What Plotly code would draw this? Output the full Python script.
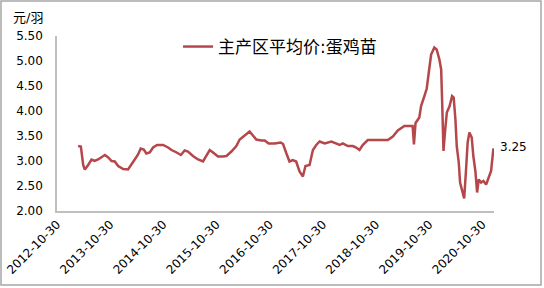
import plotly.graph_objects as go

dates = [
    "2013-03-24", "2013-04-12", "2013-04-28", "2013-05-09", "2013-06-01", "2013-06-24",
    "2013-07-16", "2013-08-08", "2013-09-24", "2013-10-17", "2013-11-09", "2013-12-01",
    "2013-12-24", "2014-01-28", "2014-03-02", "2014-03-25", "2014-04-17", "2014-05-10",
    "2014-05-28", "2014-06-18", "2014-07-06", "2014-07-29", "2014-08-21", "2014-09-18",
    "2014-10-29", "2014-12-02", "2014-12-26", "2015-01-30", "2015-02-28", "2015-03-26",
    "2015-04-18", "2015-05-22", "2015-06-26", "2015-07-30", "2015-08-22", "2015-09-14",
    "2015-10-07", "2015-11-10", "2015-12-14", "2016-01-07", "2016-02-10", "2016-03-15",
    "2016-04-07", "2016-05-11", "2016-06-14", "2016-07-07", "2016-07-30", "2016-09-03",
    "2016-09-26", "2016-10-23", "2016-12-03", "2017-01-14", "2017-01-30", "2017-02-22",
    "2017-03-15", "2017-04-07", "2017-04-30", "2017-05-23", "2017-06-15", "2017-07-03",
    "2017-07-31", "2017-08-23", "2017-09-15", "2017-10-08", "2017-11-12", "2017-12-28",
    "2018-01-31", "2018-02-23", "2018-03-16", "2018-04-20", "2018-05-24", "2018-06-16",
    "2018-07-09", "2018-07-31", "2018-09-04", "2018-10-08", "2018-11-12", "2018-12-16",
    "2019-01-20", "2019-02-23", "2019-03-29", "2019-05-13", "2019-06-16", "2019-07-09",
    "2019-07-18", "2019-07-29", "2019-08-24", "2019-09-05", "2019-09-28", "2019-10-14",
    "2019-10-28", "2019-11-13", "2019-12-05", "2019-12-21", "2020-01-09", "2020-01-21",
    "2020-01-28", "2020-02-06", "2020-02-18", "2020-02-29", "2020-03-19", "2020-04-05",
    "2020-04-16", "2020-04-28", "2020-05-07", "2020-05-21", "2020-05-30", "2020-06-13",
    "2020-06-27", "2020-07-10", "2020-07-21", "2020-08-02", "2020-08-18", "2020-08-29",
    "2020-09-12", "2020-09-24", "2020-10-05", "2020-10-21", "2020-11-06", "2020-11-25",
    "2020-12-12", "2020-12-29", "2021-01-14",
]
prices = [
    3.30, 3.29, 2.92, 2.83, 2.92, 3.03,
    3.00, 3.03, 3.12, 3.07, 3.00, 2.99,
    2.90, 2.84, 2.83, 2.94, 3.03, 3.13,
    3.25, 3.23, 3.15, 3.17, 3.27, 3.32,
    3.32, 3.27, 3.22, 3.17, 3.12, 3.21,
    3.19, 3.10, 3.03, 2.99, 3.12, 3.22,
    3.17, 3.09, 3.09, 3.10, 3.19, 3.30,
    3.43, 3.51, 3.59, 3.51, 3.43, 3.41,
    3.41, 3.35, 3.35, 3.37, 3.34, 3.15,
    2.99, 3.02, 2.99, 2.79, 2.69, 2.90,
    2.92, 3.22, 3.32, 3.39, 3.35, 3.39,
    3.35, 3.32, 3.35, 3.30, 3.30, 3.27,
    3.22, 3.32, 3.42, 3.42, 3.43, 3.42,
    3.42, 3.49, 3.61, 3.70, 3.70, 3.70,
    3.33, 3.76, 3.87, 4.10, 4.30, 4.45,
    4.77, 5.13, 5.27, 5.23, 5.03, 4.83,
    4.17, 3.20, 3.63, 3.97, 4.10, 4.30,
    4.27, 3.83, 3.30, 2.97, 2.57, 2.43,
    2.25, 2.83, 3.37, 3.57, 3.47, 3.10,
    2.80, 2.37, 2.63, 2.57, 2.60, 2.53,
    2.67, 2.80, 3.25,
]
tick_vals = ["2012-10-30", "2013-10-30", "2014-10-30", "2015-10-30", "2016-10-30",
             "2017-10-30", "2018-10-30", "2019-10-30", "2020-10-30"]
series_name = "主产区平均价:蛋鸡苗"
unit_label = "元/羽"

FONT = "DejaVu Sans, Noto Sans CJK SC, sans-serif"
LINE_COLOR = "#b5474a"

fig = go.Figure()
fig.add_trace(go.Scatter(
    x=dates, y=prices, mode="lines", name=series_name,
    line=dict(color=LINE_COLOR, width=2.5),
))

fig.add_annotation(
    x=dates[-1], y=prices[-1], text=f"{prices[-1]:.2f}", showarrow=False,
    xanchor="left", yanchor="middle", xshift=5, yshift=2,
    font=dict(family=FONT, size=12, color="#000000"),
)
fig.add_annotation(
    x=(11 - 57) / 437, y=(211 - 17) / 175, xref="paper", yref="paper",
    text=unit_label, showarrow=False,
    xanchor="left", yanchor="middle",
    font=dict(family=FONT, size=13, color="#000000"),
)
# outer frame
fig.add_shape(type="rect", xref="paper", yref="paper",
              x0=(1 - 57) / 437, x1=(541 - 57) / 437,
              y0=(211 - 285) / 175, y1=(211 - 1) / 175,
              line=dict(color="#a6a6a6", width=1.5), layer="below")

fig.update_layout(
    width=544, height=288,
    margin=dict(l=57, r=50, t=36, b=77, autoexpand=False),
    paper_bgcolor="white", plot_bgcolor="white",
    font=dict(family=FONT, size=12, color="#000000"),
    showlegend=True,
    legend=dict(x=0.277, y=(211 - 47) / 175, xanchor="left", yanchor="middle",
                bgcolor="rgba(0,0,0,0)", font=dict(family=FONT, size=17)),
    xaxis=dict(
        type="date", range=["2012-10-30", "2021-01-18"],
        tickvals=tick_vals, ticktext=tick_vals, tickangle=-45,
        showgrid=False, zeroline=False, showline=True,
        linecolor="#bfbfbf", linewidth=1.5, ticks="",
        tickfont=dict(family=FONT, size=12), automargin=False,
    ),
    yaxis=dict(
        range=[2.0, 5.5], dtick=0.5, tick0=2.0, tickformat=".2f",
        showgrid=False, zeroline=False, showline=True,
        linecolor="#bfbfbf", linewidth=1.5, ticks="",
        tickfont=dict(family=FONT, size=12), ticklabelstandoff=10,
        automargin=False,
    ),
)

fig.write_html("out.html")
